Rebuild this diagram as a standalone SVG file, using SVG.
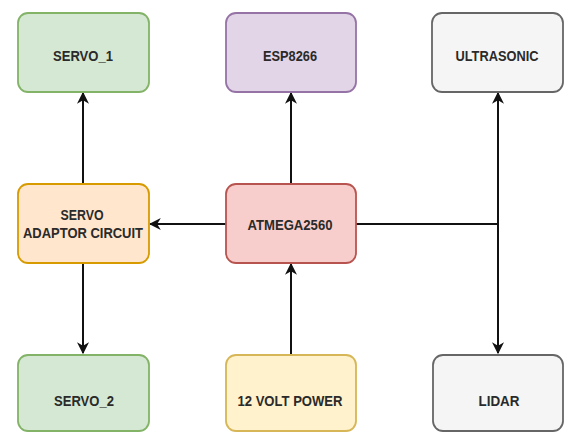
<svg xmlns="http://www.w3.org/2000/svg" width="565" height="432" viewBox="0 0 565 432">
<style>
.box{stroke-width:1.8}
.g{fill:#d5e8d4;stroke:#82b366}
.p{fill:#e1d5e7;stroke:#9673a6}
.s{fill:#f5f5f5;stroke:#666666}
.o{fill:#ffe6cc;stroke:#d79b00}
.r{fill:#f8cecc;stroke:#b85450}
.y{fill:#fff2cc;stroke:#d6b656}
text{font-family:"Liberation Sans",Arial,sans-serif;font-size:15px;font-weight:bold;fill:#2a2a2a;text-anchor:middle}
.c{fill:none;stroke:#111;stroke-width:2}
</style>
<defs>
<marker id="a" viewBox="0 0 10 10" refX="9" refY="5" markerWidth="6" markerHeight="6" markerUnits="strokeWidth" orient="auto">
<path d="M0,0 L10,5 L0,10 L3,5 Z" fill="#111"/>
</marker>
</defs>
<g id="connectors">
<path class="c" d="M83,184 V93" marker-end="url(#a)"/>
<path class="c" d="M83,263 V353" marker-end="url(#a)"/>
<path class="c" d="M291,184 V93" marker-end="url(#a)"/>
<path class="c" d="M291,354 V264" marker-end="url(#a)"/>
<path class="c" d="M226,224 H150" marker-end="url(#a)"/>
<path class="c" d="M356,224 H498"/>
<path class="c" d="M498,224 V93" marker-end="url(#a)"/>
<path class="c" d="M498,224 V353" marker-end="url(#a)"/>
</g>
<g id="servo1"><rect class="box g" x="18" y="13" width="131" height="79" rx="10"/><text x="83" y="61" textLength="60" lengthAdjust="spacingAndGlyphs">SERVO_1</text></g>
<g id="esp8266"><rect class="box p" x="226" y="13" width="130" height="79" rx="10"/><text x="290" y="61" textLength="54" lengthAdjust="spacingAndGlyphs">ESP8266</text></g>
<g id="ultrasonic"><rect class="box s" x="432" y="13" width="131" height="79" rx="10"/><text x="497" y="61" textLength="83" lengthAdjust="spacingAndGlyphs">ULTRASONIC</text></g>
<g id="adaptor"><rect class="box o" x="18" y="184" width="131" height="79" rx="10"/><text x="82" y="220" textLength="43" lengthAdjust="spacingAndGlyphs">SERVO</text><text x="83" y="238" textLength="120" lengthAdjust="spacingAndGlyphs">ADAPTOR CIRCUIT</text></g>
<g id="atmega"><rect class="box r" x="226" y="184" width="130" height="79" rx="10"/><text x="290" y="230" textLength="85" lengthAdjust="spacingAndGlyphs">ATMEGA2560</text></g>
<g id="servo2"><rect class="box g" x="18" y="355" width="131" height="76" rx="10"/><text x="84" y="406" textLength="60" lengthAdjust="spacingAndGlyphs">SERVO_2</text></g>
<g id="power"><rect class="box y" x="226" y="355" width="130" height="76" rx="10"/><text x="290" y="406" textLength="105" lengthAdjust="spacingAndGlyphs">12 VOLT POWER</text></g>
<g id="lidar"><rect class="box s" x="433" y="355" width="130" height="76" rx="10"/><text x="499" y="406" textLength="41" lengthAdjust="spacingAndGlyphs">LIDAR</text></g>
</svg>
